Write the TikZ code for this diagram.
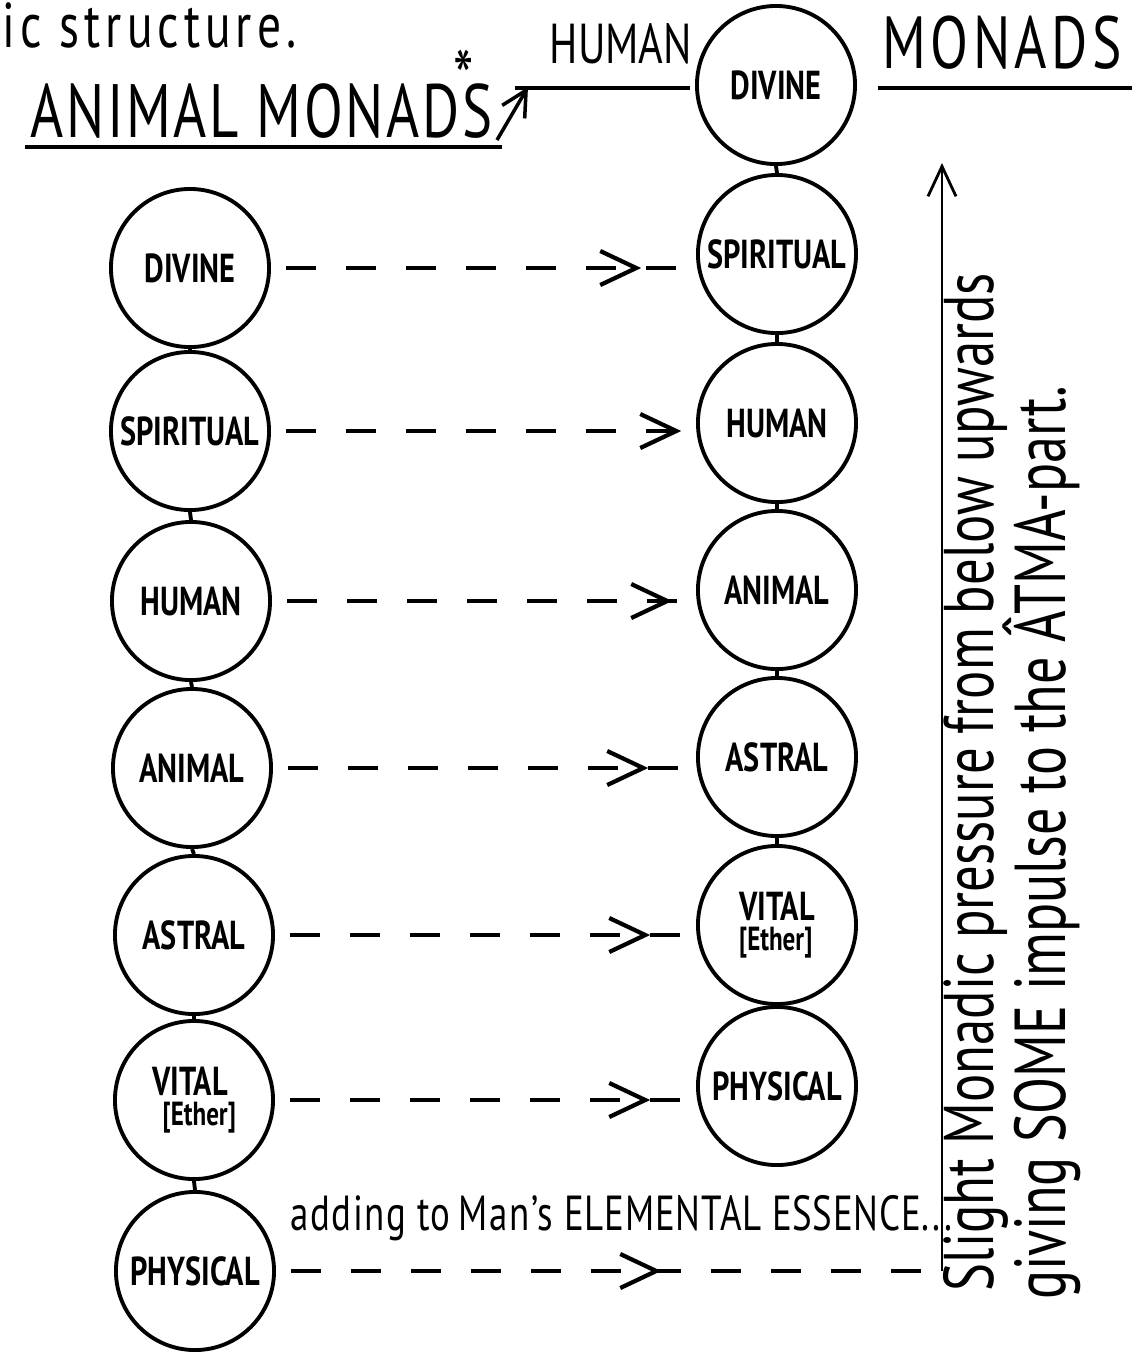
\documentclass[tikz,border=0pt]{standalone}
\usepackage{fontspec}
\setmainfont{PT Sans}[FakeStretch=0.75]
\usepackage{tikz}
\usetikzlibrary{arrows.meta,decorations.markings,calc}

\tikzset{
  monad/.style={circle, draw, line width=1.1pt, minimum size=1.58cm, inner sep=0pt,
    font=\fontsize{11.5}{11.5}\selectfont\bfseries},
  link/.style={line width=1.1pt},
  flow/.style={line width=1pt, dash pattern=on 3mm off 3mm, shorten <=1.5mm},
  tipat/.style={postaction={decorate, decoration={markings,
    mark=at position #1 with {\arrow[solid, line width=1.2pt]{Straight Barb[length=3.6mm,width=3.4mm]}}}}},
  hdr/.style={inner sep=0pt, anchor=base west},
}

\begin{document}
\begin{tikzpicture}[x=0.01cm, y=-0.01cm]
    \useasboundingbox (0,0) rectangle (1137,1356);

    % headings
    \node[hdr, font=\fontsize{18}{18}\selectfont\addfontfeature{LetterSpace=8}] (prevline) at (2,47) {ic structure.};
    \node[hdr, font=\fontsize{21.5}{21.5}\selectfont\addfontfeature{LetterSpace=3.5}] (animalhdr) at (30,137)
        {ANIMAL MONADS\llap{\raisebox{9pt}{\fontsize{22}{22}\selectfont *}\hspace{0.25em}}};
    \draw[line width=1pt] (25,147) -- (502,147);
    \node[hdr, font=\fontsize{16}{16}\selectfont] (humanhdr) at (549,63) {HUMAN};
    \draw[line width=1pt] (515,88) -- (690,88);
    \node[hdr, font=\fontsize{21}{21}\selectfont\addfontfeature{LetterSpace=6}] (monadshdr) at (882,68) {MONADS};
    \draw[line width=1pt] (878,88) -- (1132,88);
    \coordinate (hookfoot) at (497,140);
    \coordinate (hooktip) at (528,87);
    \draw[line width=1pt, -{Straight Barb[length=2.5mm,width=2.6mm]}] (hookfoot) -- (hooktip);

    % animal monad
    \node[monad] (a1) at (190,268) {DIVINE};
    \node[monad] (a2) at (190,431) {SPIRITUAL};
    \node[monad] (a3) at (191,601) {HUMAN};
    \node[monad] (a4) at (192,768) {ANIMAL};
    \node[monad] (a5) at (194,935) {ASTRAL};
    \node[monad, align=left] (a6) at (194,1100)
        {VITAL\\[-3pt]\hspace*{3pt}{\fontsize{9.5}{9.5}\selectfont[Ether]}};
    \node[monad] (a7) at (195,1271) {PHYSICAL};

    % human monad
    \node[monad] (h1) at (776,85) {DIVINE};
    \node[monad] (h2) at (777,254) {SPIRITUAL};
    \node[monad] (h3) at (777,423) {HUMAN};
    \node[monad] (h4) at (777,590) {ANIMAL};
    \node[monad] (h5) at (777,757) {ASTRAL};
    \node[monad, align=left] (h6) at (777,925)
        {VITAL\\[-3pt]{\fontsize{9.5}{9.5}\selectfont[Ether]}};
    \node[monad] (h7) at (777,1086) {PHYSICAL};

    \foreach \i/\j in {1/2,2/3,3/4,4/5,5/6,6/7} {
        \draw[link] (a\i.south) -- (a\j.north);
        \draw[link] (h\i.south) -- (h\j.north);
    }

    % passing over
    \draw[flow, tipat=3.7cm] (a1.east) -- (a1.east -| h2.west);
    \draw[flow, tipat=4.1cm] (a2.east) -- (a2.east -| h3.west);
    \draw[flow, tipat=4.0cm] (a3.east) -- (a3.east -| h4.west);
    \draw[flow, tipat=3.75cm] (a4.east) -- (a4.east -| h5.west);
    \draw[flow, tipat=3.75cm] (a5.east) -- (a5.east -| h6.west);
    \draw[flow, tipat=3.75cm] (a6.east) -- (a6.east -| h7.west);

    % pressure upwards
    \coordinate (risebase) at (942,1271);
    \coordinate (risetop) at (942,163);
    \draw[line width=0.8pt, -{Straight Barb[length=3mm,width=2.8mm]}] (risebase) -- (risetop);
    \draw[flow, tipat=3.85cm] (a7.east) -- (risebase);
    \node[hdr, font=\fontsize{14}{14}\selectfont\addfontfeature{LetterSpace=3}] (addnote) at (290,1230)
        {adding to\,Man's {\fontsize{14}{14}\selectfont\addfontfeature{LetterSpace=1.5} ELEMENTAL ESSENCE}...};

    \node[rotate=90, font=\fontsize{20}{20}\selectfont] (pressure) at (976,782)
        {Slight Monadic pressure from below upwards};
    \node[rotate=90, font=\fontsize{20.5}{20.5}\selectfont] (impulse) at (1042,843)
        {giving SOME impulse to the ÂTMA-part.};
\end{tikzpicture}
\end{document}
